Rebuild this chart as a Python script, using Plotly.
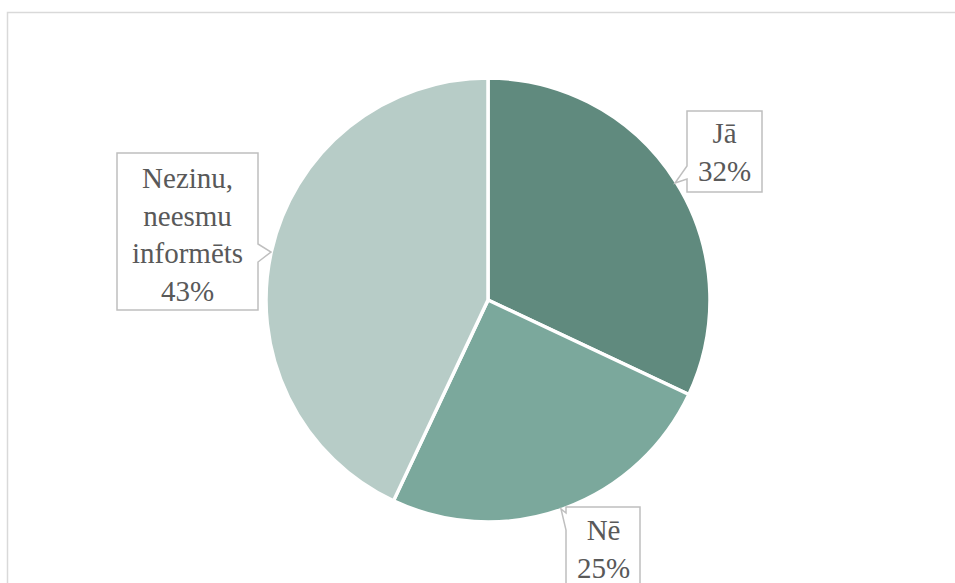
import plotly.graph_objects as go

# Survey answers and their shares (%)
categories = ["Jā", "Nē", "Nezinu, neesmu informēts"]
label_lines = [["Jā"], ["Nē"], ["Nezinu,", "neesmu", "informēts"]]
shares = [32, 25, 43]
colors = ["#608a7e", "#7ba89c", "#b7ccc7"]

W, H = 955, 583


def px(x):
    return x / W


def py(y):
    return 1 - y / H


# Pie placement in pixels
cx, cy, r = 488, 300, 222

fig = go.Figure(
    go.Pie(
        labels=categories,
        values=shares,
        sort=False,
        direction="clockwise",
        rotation=0,
        marker=dict(colors=colors, line=dict(color="white", width=3.5)),
        textinfo="none",
        hoverinfo="label+percent",
        domain=dict(x=[px(cx - r), px(cx + r)], y=[py(cy + r), py(cy - r)]),
        showlegend=False,
    )
)

# Callout boxes (box outline with a small pointer toward the slice)
callouts = [
    # Jā
    [(687, 111), (762, 111), (762, 192), (687, 192), (687, 179), (675, 183), (687, 166)],
    # Nē
    [(566, 507), (640, 507), (640, 620), (566, 620), (566, 530), (561, 509), (566, 513)],
    # Nezinu
    [(117, 153), (258, 153), (258, 244), (271, 252), (258, 262), (258, 310), (117, 310)],
]
text_centers = [(724, 152), (603, 549), (187, 234)]

shapes = []
for poly in callouts:
    path = "M " + " L ".join(f"{px(x)},{py(y)}" for x, y in poly) + " Z"
    shapes.append(
        dict(
            type="path", xref="paper", yref="paper", path=path,
            fillcolor="white", line=dict(color="#bfbfbf", width=1.5), layer="above",
        )
    )

# Chart area frame
shapes.append(
    dict(
        type="rect", xref="paper", yref="paper",
        x0=px(7.5), y0=py(640), x1=px(1000), y1=py(12.5),
        line=dict(color="#d9d9d9", width=1.5), fillcolor="rgba(0,0,0,0)", layer="below",
    )
)

annotations = []
for lines, share, (tx, ty) in zip(label_lines, shares, text_centers):
    annotations.append(
        dict(
            xref="paper", yref="paper", x=px(tx), y=py(ty),
            xanchor="center", yanchor="middle", showarrow=False,
            text="<br>".join(lines + [f"{share}%"]),
            font=dict(family="Liberation Serif", size=29, color="#595959"),
            align="center",
        )
    )

fig.update_layout(
    width=W, height=H,
    margin=dict(l=0, r=0, t=0, b=0),
    paper_bgcolor="white", plot_bgcolor="white",
    shapes=shapes, annotations=annotations,
)

fig.write_html("out.html")
